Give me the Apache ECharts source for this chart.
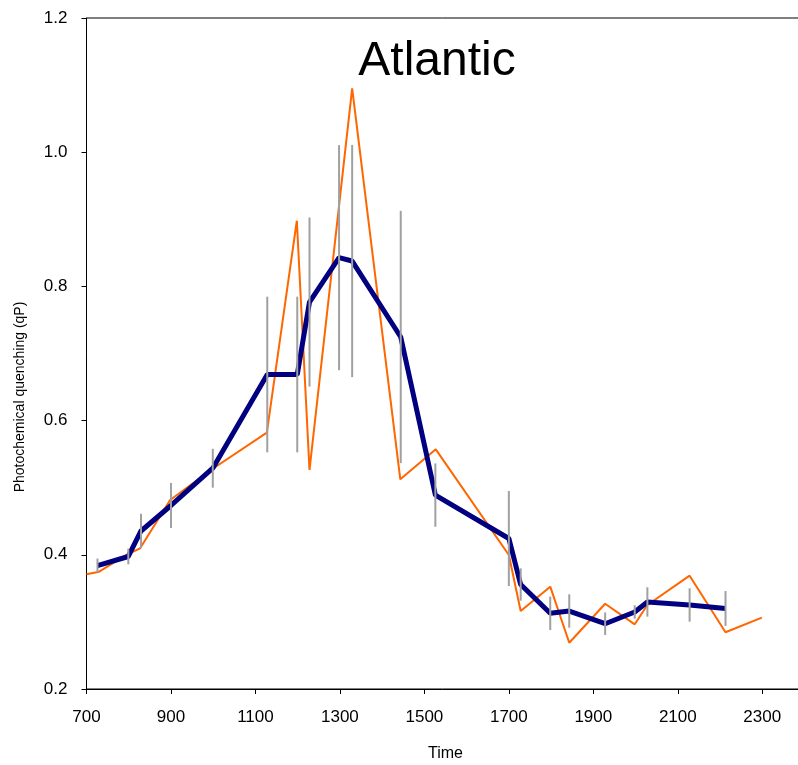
<!DOCTYPE html>
<html>
<head>
<meta charset="utf-8">
<script src="https://cdn.jsdelivr.net/npm/echarts@6/dist/echarts.min.js"></script>
<style>
html,body{margin:0;padding:0;background:#fff;}
#main{width:798px;height:765px;}
</style>
</head>
<body>
<div id="main"></div>
<script>
// Mean series (navy) with error (half-length)
var meanTimes = [726, 799, 829, 900, 999, 1128, 1199, 1228, 1298, 1329, 1444, 1526, 1700, 1728, 1798, 1843, 1928, 1998, 2028, 2128, 2213];
var meanValues = [0.384, 0.3975, 0.4355, 0.4735, 0.529, 0.6687, 0.6687, 0.7767, 0.8428, 0.8378, 0.7246, 0.489, 0.4243, 0.3557, 0.3128, 0.3162, 0.2973, 0.3148, 0.3297, 0.3252, 0.320];
var meanErrors = [0.0104, 0.0117, 0.0256, 0.0335, 0.029, 0.116, 0.116, 0.126, 0.1677, 0.173, 0.188, 0.0472, 0.0708, 0.0241, 0.0249, 0.0249, 0.0168, 0.010, 0.0219, 0.0249, 0.026];
// Single series (orange)
var singleTimes = [700, 730, 798, 827, 898, 998, 1127, 1198, 1228, 1329, 1443, 1527, 1700, 1728, 1798, 1843, 1928, 1998, 2028, 2128, 2213, 2299];
var singleValues = [0.371, 0.3748, 0.4012, 0.4097, 0.4817, 0.5279, 0.582, 0.8979, 0.5264, 1.0952, 0.5125, 0.5572, 0.3997, 0.3162, 0.3525, 0.269, 0.3271, 0.2964, 0.3252, 0.3689, 0.2845, 0.3063];
// Axis ticks
var xMin = 700, xMax = 2400, xStep = 200;
var yMin = 0.2, yMax = 1.2, yStep = 0.2;
var titleText = 'Atlantic';
var xName = 'Time';
var yName = 'Photochemical quenching (qP)';

var chart = echarts.init(document.getElementById('main'), null, {renderer: 'canvas'});
var font = '"Liberation Sans", Arial, sans-serif';

var meanData = meanTimes.map(function (t, i) { return [t, meanValues[i]]; });
var errData = meanTimes.map(function (t, i) { return [t, meanValues[i], meanErrors[i]]; });
var singleData = singleTimes.map(function (t, i) { return [t, singleValues[i]]; });

chart.setOption({
  animation: false,
  backgroundColor: '#fff',
  grid: {
    left: 86.5, top: 18, bottom: 76, right: -6.5,
    outerBoundsMode: 'none',
    show: true, borderColor: '#000', borderWidth: 1
  },
  graphic: [{
    type: 'text', x: 437, y: 62, z: 10,
    style: {text: titleText, font: '48px "Liberation Sans", Arial, sans-serif', fill: '#000', textAlign: 'center', textVerticalAlign: 'middle'}
  }, {
    type: 'text', x: 20, y: 397, rotation: Math.PI / 2, z: 10,
    style: {text: yName, font: '14px "Liberation Sans", Arial, sans-serif', fill: '#000', textAlign: 'center', textVerticalAlign: 'middle'}
  }],
  xAxis: {
    type: 'value', min: xMin, max: xMax, interval: xStep,
    name: xName, nameLocation: 'middle', nameGap: 57,
    nameTextStyle: {fontFamily: font, fontSize: 16, color: '#000'},
    axisLine: {onZero: false, lineStyle: {color: '#000', width: 1}},
    axisTick: {show: true, inside: false, length: 5, lineStyle: {color: '#000'}},
    axisLabel: {fontFamily: font, fontSize: 17, color: '#000', margin: 20, showMaxLabel: false,
      formatter: function (v) { return String(v); }},
    splitLine: {show: false}
  },
  yAxis: {
    type: 'value', min: yMin, max: yMax, interval: yStep,
    axisLine: {show: true, onZero: false, lineStyle: {color: '#000', width: 1}},
    axisTick: {show: true, inside: false, length: 5, lineStyle: {color: '#000'}},
    axisLabel: {fontFamily: font, fontSize: 17, color: '#000', margin: 19,
      formatter: function (v) { return v.toFixed(1); }},
    splitLine: {show: false}
  },
  series: [
    {
      type: 'line', data: singleData, symbol: 'none', z: 2,
      lineStyle: {color: '#ff6600', width: 2}, clip: false
    },
    {
      type: 'line', data: meanData, symbol: 'none', z: 3,
      lineStyle: {color: '#000080', width: 5}
    },
    {
      type: 'custom', z: 4, data: errData,
      renderItem: function (params, api) {
        var x = api.value(0), m = api.value(1), e = api.value(2);
        var p1 = api.coord([x, m - e]);
        var p2 = api.coord([x, m + e]);
        return {
          type: 'line',
          shape: {x1: p1[0], y1: p1[1], x2: p2[0], y2: p2[1]},
          style: {stroke: '#a0a0a0', lineWidth: 2}
        };
      }
    }
  ]
});
</script>
</body>
</html>
